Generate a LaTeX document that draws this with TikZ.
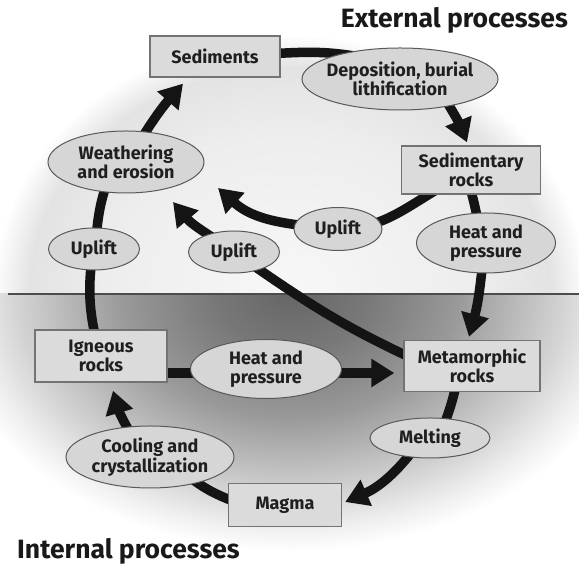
\documentclass[tikz,border=0pt]{standalone}
\usepackage{fontspec}
\setmainfont{Fira Sans}
\usetikzlibrary{arrows.meta,shapes.geometric}
\pgfdeclarelayer{bgl}
\pgfdeclarelayer{conn}
\pgfsetlayers{bgl,conn,main}
\pgfdeclareradialshading{lowglow}{\pgfpoint{0bp}{0bp}}{color(0bp)=(black!60); color(5bp)=(black!53); color(11bp)=(black!40); color(18bp)=(black!17); color(21bp)=(black!6); color(23bp)=(white); color(50bp)=(white)}
\pgfdeclareradialshading{upglow}{\pgfpoint{0bp}{0bp}}{color(0bp)=(black!3); color(15bp)=(black!7); color(21bp)=(black!11); color(24bp)=(white); color(50bp)=(white)}
\begin{document}
\begin{tikzpicture}[x=1pt,y=1pt,
  lbl/.style={font=\fontsize{18}{19.5}\selectfont\bfseries, text=black!88, align=center, inner sep=0pt},
  boxn/.style={lbl, rectangle, draw=black!55, line width=1.3pt, fill=black!14},
  elln/.style={ellipse, draw=black!65, line width=1pt, fill=black!16, inner sep=0pt},
  conn/.style={line width=9.5pt, black!92},
  arr/.style={conn, -{Triangle[width=27pt,length=23pt]}},
  title/.style={font=\fontsize{26.5}{30}\selectfont\bfseries, text=black!90, inner sep=0pt}
]
\useasboundingbox (0,0) rectangle (579,569);
\begin{pgfonlayer}{bgl}
  \begin{scope}
    \clip (0,275) rectangle (579,569);
    \shade[shading=upglow] (-20,5) rectangle (600,545);
  \end{scope}
  \begin{scope}
    \clip (0,0) rectangle (579,275);
    \shade[shading=lowglow] (-90,-5) rectangle (670,555);
  \end{scope}
  \draw[black!70, line width=1.6pt] (8,275) -- (579,275);
\end{pgfonlayer}

% titles
\node[title, anchor=base east] (ext) at (568,541) {External processes};
\node[title, anchor=base west] (int) at (17,10) {Internal processes};

% boxes
\node[boxn, minimum width=130pt, minimum height=41pt] (sed) at (215,512.5) {Sediments};
\node[boxn, minimum width=139pt, minimum height=48pt] (sedr) at (471,399) {Sedimentary\\rocks};
\node[boxn, minimum width=132pt, minimum height=52pt] (ign) at (101,213) {Igneous\\rocks};
\node[boxn, minimum width=136pt, minimum height=51pt] (meta) at (472,203) {Metamorphic\\rocks};
\node[boxn, minimum width=113pt, minimum height=43pt] (magma) at (285,64) {Magma};

% ellipses
\node[elln, minimum width=196pt, minimum height=62pt] (dep) at (400,490) {};
\node[lbl] (dept) at (dep) {Deposition, burial\\lithification};
\node[elln, minimum width=156pt, minimum height=62pt] (weath) at (126,407) {};
\node[lbl] (weatht) at (weath) {Weathering\\and erosion};
\node[elln, minimum width=91pt, minimum height=42pt] (upL) at (94,320) {};
\node[lbl] (upLt) at (upL) {Uplift};
\node[elln, minimum width=91pt, minimum height=42pt] (upM) at (234,317) {};
\node[lbl] (upMt) at (upM) {Uplift};
\node[elln, minimum width=88pt, minimum height=43pt] (upR) at (338,340) {};
\node[lbl] (upRt) at (upR) {Uplift};
\node[elln, minimum width=139pt, minimum height=60pt] (heatR) at (486,326) {};
\node[lbl] (heatRt) at (heatR) {Heat and\\pressure};
\node[elln, minimum width=151pt, minimum height=59pt] (heatB) at (266,200) {};
\node[lbl] (heatBt) at (heatB) {Heat and\\pressure};
\node[elln, minimum width=120pt, minimum height=40pt] (melt) at (430,131) {};
\node[lbl] (meltt) at (melt) {Melting};
\node[elln, minimum width=168pt, minimum height=62pt] (cool) at (150,112) {};
\node[lbl] (coolt) at (cool) {Cooling and\\crystallization};

\coordinate (tipR) at (218,381);
\coordinate (tipM) at (173,367);

\begin{pgfonlayer}{conn}
  \draw[conn] ([xshift=-5pt,yshift=3pt]sed.east) to[out=3,in=170] ([xshift=-40pt,yshift=22pt]dep.center);
  \draw[arr] ([xshift=45pt,yshift=-20pt]dep.center) to[bend left=5] ([xshift=-4pt,yshift=3pt]sedr.north);
  \draw[conn] ([xshift=-3pt,yshift=-10pt]sedr.center) to[bend left=3] ([xshift=-6pt,yshift=10pt]heatR.center);
  \draw[arr] ([xshift=-3pt,yshift=-16pt]heatR.center) to[bend left=5] ([xshift=-3pt,yshift=3pt]meta.north);
  \draw[conn] ([xshift=-14pt,yshift=-10pt]meta.center) to[bend left=5] ([xshift=12pt,yshift=8pt]melt.center);
  \draw[arr] ([xshift=-12pt,yshift=-6pt]melt.center) to[bend left=15] ([xshift=3pt,yshift=3pt]magma.east);
  \draw[conn] ([xshift=5pt,yshift=4pt]magma.west) to[bend left=10] ([xshift=30pt,yshift=-12pt]cool.center);
  \draw[arr] ([xshift=-13pt,yshift=13pt]cool.center) to[bend left=8] ([xshift=12pt,yshift=-8pt]ign.south);
  \draw[conn] ([xshift=-4pt,yshift=12pt]ign.center) to[bend left=10] ([xshift=-2pt,yshift=-8pt]upL.center);
  \draw[conn] ([xshift=2pt,yshift=8pt]upL.center) to[bend left=8] ([xshift=-16pt,yshift=-12pt]weath.center);
  \draw[arr] ([xshift=9pt,yshift=13pt]weath.center) to[bend left=5] ([xshift=-32pt,yshift=-6pt]sed.south);
  \draw[arr] ([xshift=-5pt,yshift=-17pt]ign.east) -- ([xshift=-9pt,yshift=-7pt]meta.west);
  \draw[arr] ([xshift=-28pt,yshift=-16pt]sedr.center) to[out=210,in=0] (upR.center) to[out=175,in=-42] (tipR);
  \draw[arr] ([xshift=6pt,yshift=9pt]meta.west) to[out=155,in=-35] (upM.center) to[out=145,in=-50] (tipM);
\end{pgfonlayer}
\end{tikzpicture}
\end{document}
